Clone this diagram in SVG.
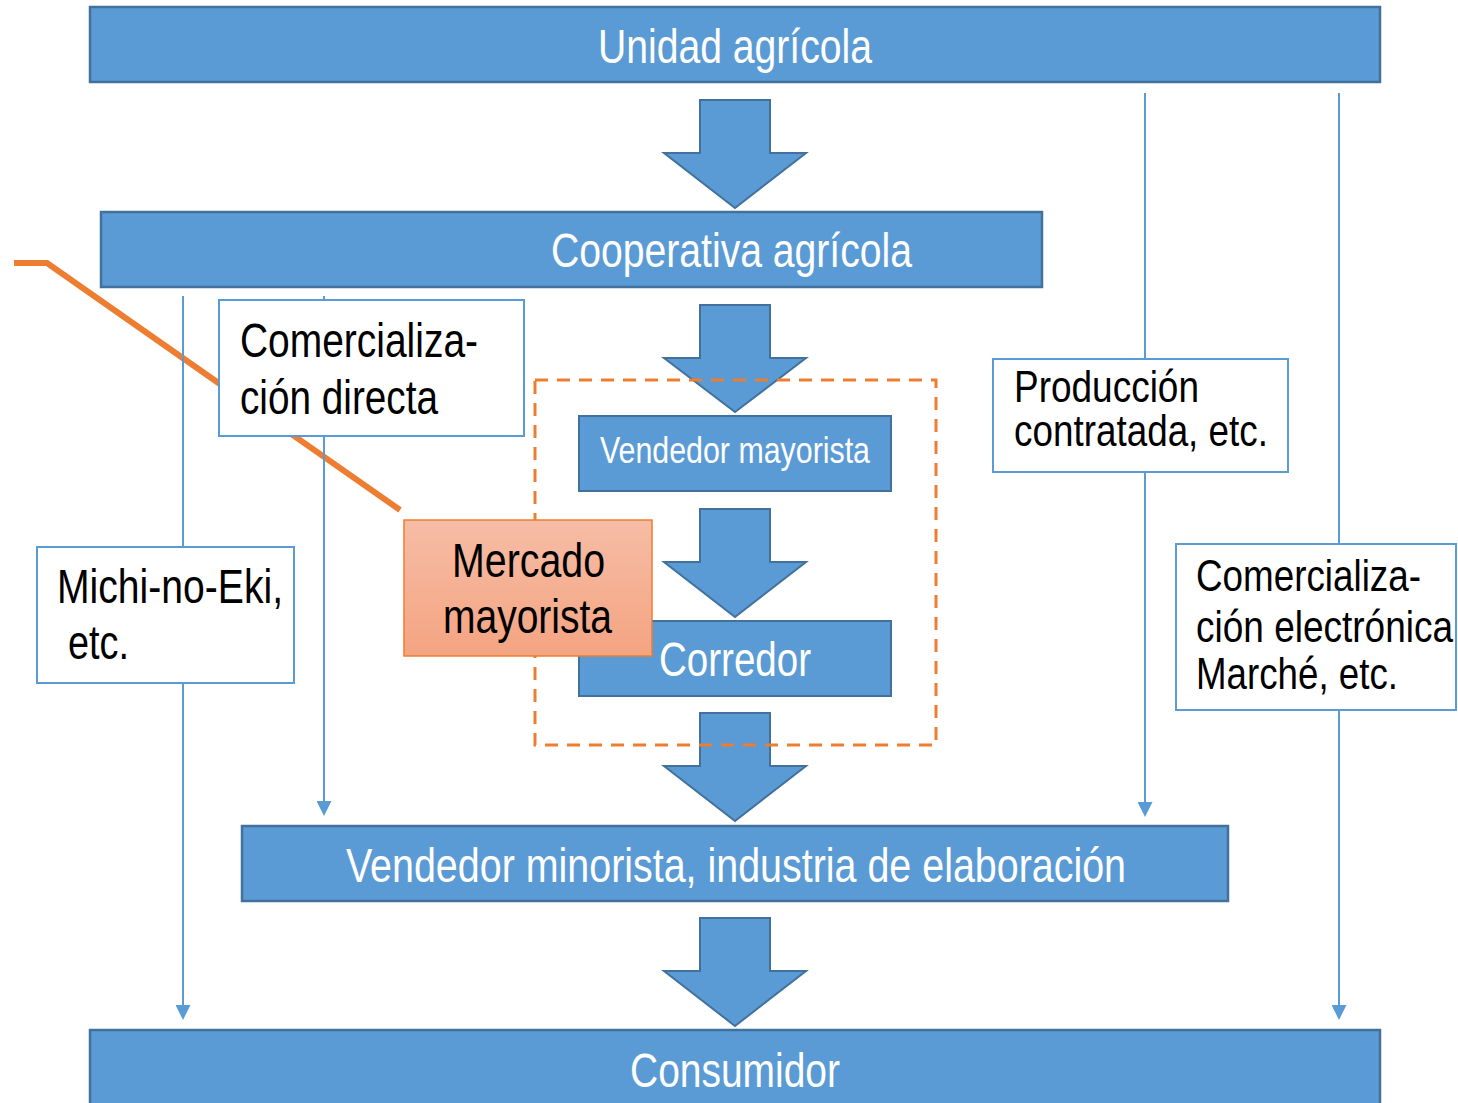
<svg xmlns="http://www.w3.org/2000/svg" width="1458" height="1103" viewBox="0 0 1458 1103">
<defs>
<style>
.bar{fill:#5B9BD5;stroke:#41719C;stroke-width:2.5}
.barw{fill:#5B9BD5;stroke:#41719C;stroke-width:2}
.box{fill:#FFFFFF;stroke:#5B9BD5;stroke-width:2}
.wt{font-family:"Liberation Sans",Arial,sans-serif;fill:#FFFFFF;text-anchor:middle}
.bt{font-family:"Liberation Sans",Arial,sans-serif;fill:#000000}
.thin{stroke:#5B9BD5;stroke-width:2;fill:none}
.blk{fill:#5B9BD5;stroke:#41719C;stroke-width:2}
</style>
<marker id="ah" viewBox="0 0 15 15" markerWidth="15" markerHeight="15" refX="11" refY="7.5" orient="auto" markerUnits="userSpaceOnUse">
<path d="M0,0 L15,7.5 L0,15 z" fill="#5B9BD5"/>
</marker>
<linearGradient id="og" x1="0" y1="0" x2="0" y2="1">
<stop offset="0" stop-color="#F6BDA6"/>
<stop offset="1" stop-color="#F4A481"/>
</linearGradient>
</defs>

<g id="orange-line">
<polyline points="14,263 47,263 400,510" fill="none" stroke="#ED7D31" stroke-width="6"/>
</g>

<g id="connectors">
<line class="thin" x1="183" y1="296" x2="183" y2="1016" marker-end="url(#ah)"/>
<line class="thin" x1="324" y1="296" x2="324" y2="812" marker-end="url(#ah)"/>
<line class="thin" x1="1145" y1="93" x2="1145" y2="813" marker-end="url(#ah)"/>
<line class="thin" x1="1339" y1="93" x2="1339" y2="1016" marker-end="url(#ah)"/>
<polygon class="blk" points="700,100 770,100 770,153 806,153 735,208 664,153 700,153"/>
<polygon class="blk" points="700,305 770,305 770,358 806,358 735,412 664,358 700,358"/>
<polygon class="blk" points="700,509 770,509 770,562 806,562 735,617 664,562 700,562"/>
<polygon class="blk" points="700,713 770,713 770,766 806,766 735,821 664,766 700,766"/>
<polygon class="blk" points="700,918 770,918 770,971 806,971 735,1026 664,971 700,971"/>
</g>

<g id="unidad">
<rect class="bar" x="90" y="7" width="1290" height="75"/>
<text class="wt" x="735" y="63" font-size="48" textLength="274" lengthAdjust="spacingAndGlyphs">Unidad agrícola</text>
</g>

<g id="cooperativa">
<rect class="bar" x="101" y="212" width="941" height="75"/>
<text class="wt" x="731.5" y="267" font-size="48" textLength="361" lengthAdjust="spacingAndGlyphs">Cooperativa agrícola</text>
</g>

<g id="vendedor-mayorista">
<rect class="barw" x="579" y="416" width="312" height="75"/>
<text class="wt" x="735" y="463" font-size="37" textLength="270" lengthAdjust="spacingAndGlyphs">Vendedor mayorista</text>
</g>

<g id="corredor">
<rect class="barw" x="579" y="621" width="312" height="75"/>
<text class="wt" x="735" y="676" font-size="48" textLength="152" lengthAdjust="spacingAndGlyphs">Corredor</text>
</g>

<g id="mercado-group">
<rect x="535" y="380" width="401" height="365" fill="none" stroke="#ED7D31" stroke-width="3" stroke-dasharray="13,9"/>
</g>

<g id="mercado-mayorista">
<rect x="404" y="520" width="248" height="136" fill="url(#og)" stroke="#ED7D31" stroke-width="1.5"/>
<text class="bt" x="528.5" y="577" font-size="48" text-anchor="middle" textLength="153" lengthAdjust="spacingAndGlyphs">Mercado</text>
<text class="bt" x="527.5" y="633" font-size="48" text-anchor="middle" textLength="169" lengthAdjust="spacingAndGlyphs">mayorista</text>
</g>

<g id="vendedor-minorista">
<rect class="bar" x="242" y="826" width="986" height="75"/>
<text class="wt" x="736" y="882" font-size="48" textLength="780" lengthAdjust="spacingAndGlyphs">Vendedor minorista, industria de elaboración</text>
</g>

<g id="consumidor">
<rect class="bar" x="90" y="1030" width="1290" height="85"/>
<text class="wt" x="735" y="1087" font-size="48" textLength="210" lengthAdjust="spacingAndGlyphs">Consumidor</text>
</g>

<g id="comercializacion-directa">
<rect class="box" x="219" y="300" width="305" height="136"/>
<text class="bt" x="240" y="357" font-size="48" textLength="238" lengthAdjust="spacingAndGlyphs">Comercializa-</text>
<text class="bt" x="240" y="414" font-size="48" textLength="198" lengthAdjust="spacingAndGlyphs">ción directa</text>
</g>

<g id="michi-no-eki">
<rect class="box" x="37" y="547" width="257" height="136"/>
<text class="bt" x="57" y="603" font-size="48" textLength="226" lengthAdjust="spacingAndGlyphs">Michi-no-Eki,</text>
<text class="bt" x="68" y="659" font-size="48" textLength="61" lengthAdjust="spacingAndGlyphs">etc.</text>
</g>

<g id="produccion-contratada">
<rect class="box" x="993" y="359" width="295" height="113"/>
<text class="bt" x="1014" y="402" font-size="45" textLength="185" lengthAdjust="spacingAndGlyphs">Producción</text>
<text class="bt" x="1014" y="446" font-size="45" textLength="254" lengthAdjust="spacingAndGlyphs">contratada, etc.</text>
</g>

<g id="comercializacion-electronica">
<rect class="box" x="1176" y="544" width="280" height="166"/>
<text class="bt" x="1196" y="591" font-size="45" textLength="225" lengthAdjust="spacingAndGlyphs">Comercializa-</text>
<text class="bt" x="1196" y="642" font-size="45" textLength="257" lengthAdjust="spacingAndGlyphs">ción electrónica</text>
<text class="bt" x="1196" y="689" font-size="45" textLength="202" lengthAdjust="spacingAndGlyphs">Marché, etc.</text>
</g>
</svg>
